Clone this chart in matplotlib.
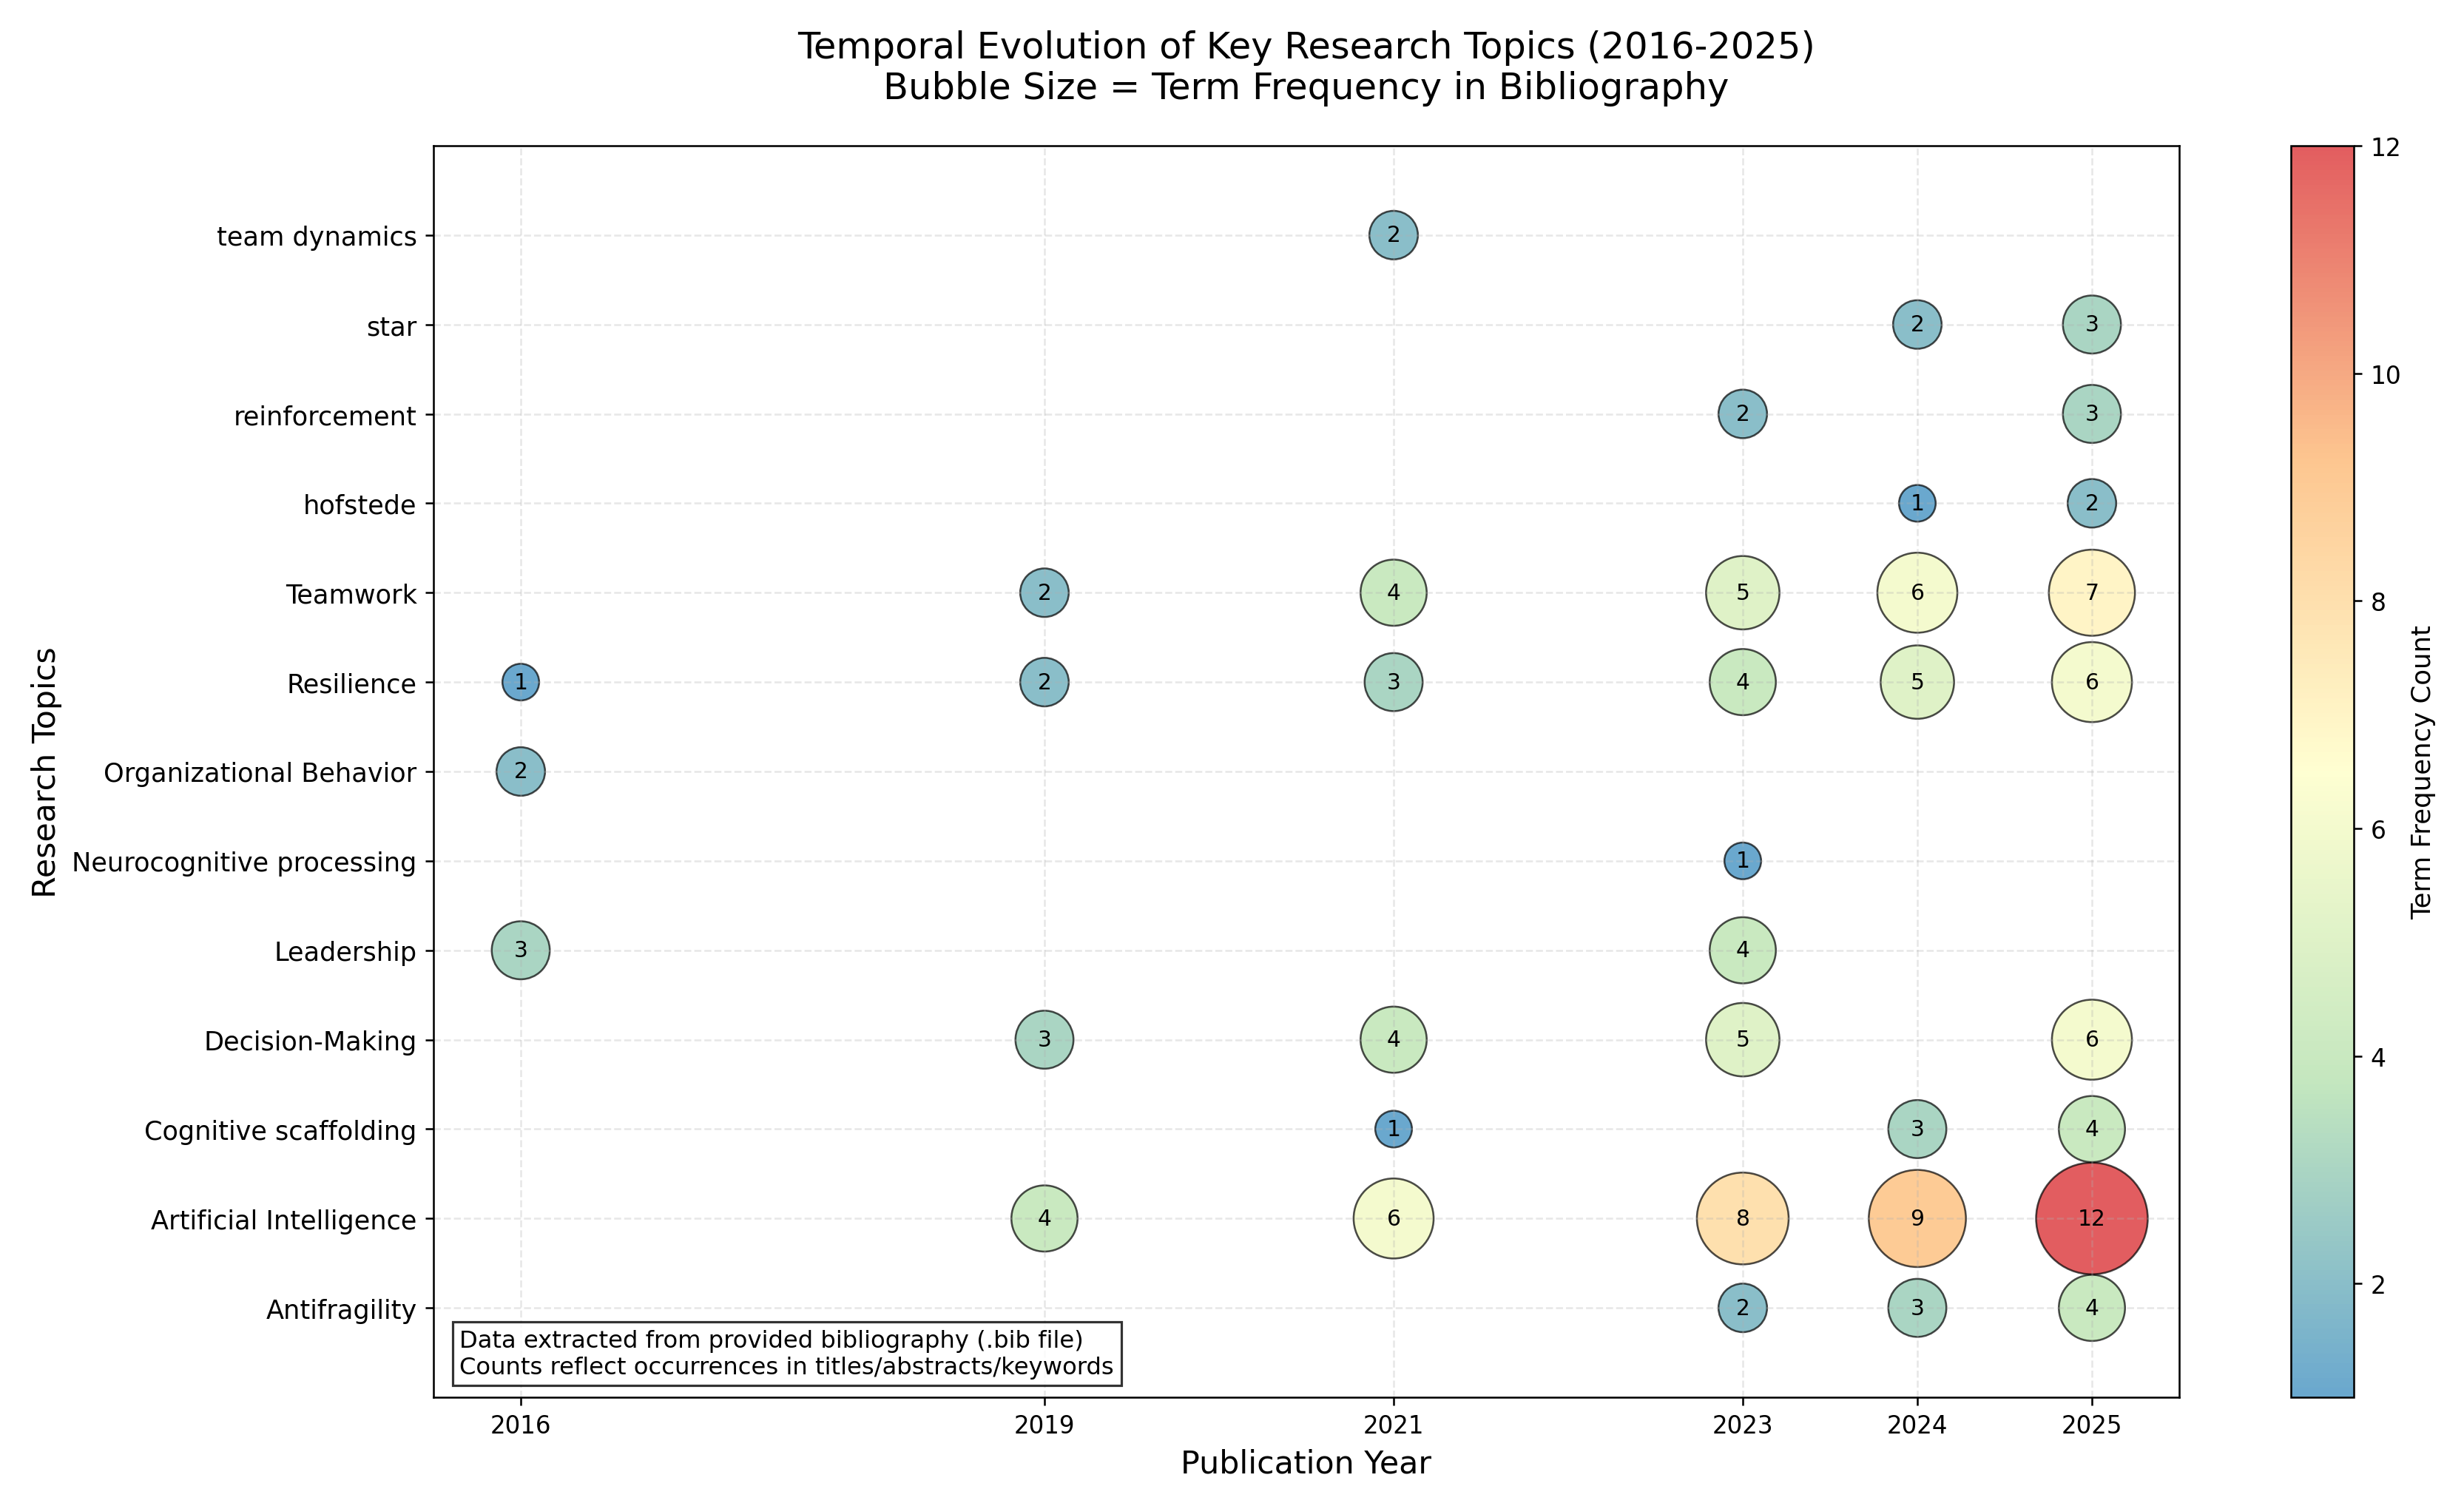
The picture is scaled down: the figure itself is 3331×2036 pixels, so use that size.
import matplotlib
matplotlib.use("Agg")
import matplotlib.pyplot as plt
from matplotlib.colors import LinearSegmentedColormap

# research topics, bottom to top on the y axis
topics = ['Antifragility', 'Artificial Intelligence', 'Cognitive scaffolding',
          'Decision-Making', 'Leadership', 'Neurocognitive processing',
          'Organizational Behavior', 'Resilience', 'Teamwork', 'hofstede',
          'reinforcement', 'star', 'team dynamics']

years = [2016, 2019, 2021, 2023, 2024, 2025]

# one entry per bubble
point_topic = ['Antifragility', 'Antifragility', 'Antifragility',
               'Artificial Intelligence', 'Artificial Intelligence', 'Artificial Intelligence',
               'Artificial Intelligence', 'Artificial Intelligence',
               'Cognitive scaffolding', 'Cognitive scaffolding', 'Cognitive scaffolding',
               'Decision-Making', 'Decision-Making', 'Decision-Making', 'Decision-Making',
               'Leadership', 'Leadership',
               'Neurocognitive processing',
               'Organizational Behavior',
               'Resilience', 'Resilience', 'Resilience', 'Resilience', 'Resilience', 'Resilience',
               'Teamwork', 'Teamwork', 'Teamwork', 'Teamwork', 'Teamwork',
               'hofstede', 'hofstede',
               'reinforcement', 'reinforcement',
               'star', 'star',
               'team dynamics']
point_year = [2023, 2024, 2025,
              2019, 2021, 2023, 2024, 2025,
              2021, 2024, 2025,
              2019, 2021, 2023, 2025,
              2016, 2023,
              2023,
              2016,
              2016, 2019, 2021, 2023, 2024, 2025,
              2019, 2021, 2023, 2024, 2025,
              2024, 2025,
              2023, 2025,
              2024, 2025,
              2021]
point_count = [2, 3, 4,
               4, 6, 8, 9, 12,
               1, 3, 4,
               3, 4, 5, 6,
               3, 4,
               1,
               2,
               1, 2, 3, 4, 5, 6,
               2, 4, 5, 6, 7,
               1, 2,
               2, 3,
               2, 3,
               2]

W, H, DPI = 3331, 2037, 230
fig = plt.figure(figsize=(W / DPI, H / DPI), dpi=DPI)
ax = fig.add_axes([586 / W, 1 - 1890 / H, (2946 - 586) / W, (1890 - 198) / H])
cax = fig.add_axes([3097 / W, 1 - 1890 / H, 85 / W, (1890 - 198) / H])

cmap = LinearSegmentedColormap.from_list(
    'spec5', ['#2b83ba', '#abdda4', '#ffffbf', '#fdae61', '#d7191c'])

y_pos = [topics.index(t) for t in point_topic]
sizes = [181 * c + 60 for c in point_count]

sc = ax.scatter(point_year, y_pos, s=sizes, c=point_count, cmap=cmap,
                vmin=1, vmax=12, alpha=0.7, edgecolors='black', linewidths=0.8)

for x, y, c in zip(point_year, y_pos, point_count):
    ax.text(x, y, str(c), ha='center', va='center', fontsize=9.3)

ax.set_yticks(range(len(topics)))
ax.set_yticklabels(topics, fontsize=11)
ax.set_xticks(years)
ax.set_xticklabels([str(y) for y in years], fontsize=10.2)
ax.set_xlim(2015.5, 2025.5)
ax.set_ylim(-1, len(topics))

ax.grid(True, linestyle='--', alpha=0.3)
ax.set_xlabel('Publication Year', fontsize=13.4)
ax.set_ylabel('Research Topics', fontsize=13.4)
ax.set_title('Temporal Evolution of Key Research Topics (2016-2025)\n'
             'Bubble Size = Term Frequency in Bibliography', fontsize=15.5, pad=20)

ax.text(0.015, 0.015,
        'Data extracted from provided bibliography (.bib file)\n'
        'Counts reflect occurrences in titles/abstracts/keywords',
        transform=ax.transAxes, fontsize=10.1, va='bottom', ha='left',
        bbox=dict(boxstyle='square', facecolor='white', edgecolor='black', alpha=0.8))

cbar = fig.colorbar(sc, cax=cax)
cbar.ax.tick_params(labelsize=10.35)
cbar.set_label('Term Frequency Count', fontsize=11.1)

plt.savefig('out.png', dpi=DPI)
